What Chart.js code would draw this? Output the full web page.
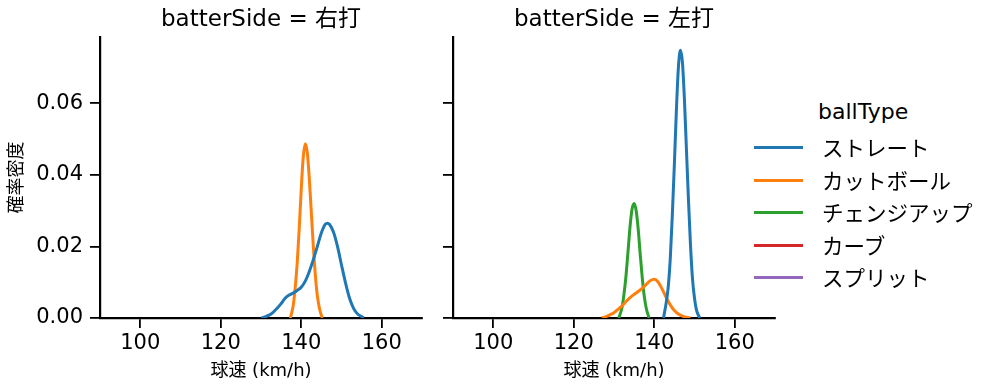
<!DOCTYPE html>
<html>
<head>
<meta charset="utf-8">
<script src="https://cdn.jsdelivr.net/npm/chart.js@4/dist/chart.umd.min.js"></script>
<style>
  body { margin: 0; background: #fff; }
  #wrap { position: relative; width: 999px; height: 391px; font-family: "DejaVu Sans", "Noto Sans CJK JP", sans-serif; }
  .panel { position: absolute; top: 0; }
  #legend { position: absolute; left: 754px; top: 96px; color: #000; }
  #legend .ttl { font-size: 22px; position: absolute; left: 64px; top: 0; white-space: nowrap; line-height: 32px; }
  #legend .item { position: absolute; left: 0; height: 30px; white-space: nowrap; }
  #legend .sw { position: absolute; left: 0; width: 49px; height: 3px; top: 14px; }
  #legend .lbl { position: absolute; left: 68px; top: 0; font-size: 21.5px; line-height: 30px; font-family: "Noto Sans CJK JP", sans-serif; }
</style>
</head>
<body>
<div id="wrap">
  <div class="panel" style="left:0px;width:430px;height:391px"><canvas id="leftChart" width="430" height="391"></canvas></div>
  <div class="panel" style="left:430px;width:352px;height:391px"><canvas id="rightChart" width="352" height="391"></canvas></div>
  <div id="legend"></div>
</div>
<script>
// tick values
const xTicks = [100, 120, 140, 160];
const yTicks = [0, 0.02, 0.04, 0.06];

const ballTypes = ["ストレート", "カットボール", "チェンジアップ", "カーブ", "スプリット"];
const colors = ["#1f77b4", "#ff7f0e", "#2ca02c", "#d62728", "#9467bd"];

// 右打 panel
const rightStraightX = [130, 131, 132, 133, 134, 135, 136, 137, 138, 139, 140, 141, 142, 143, 144, 145, 146, 146.5, 147, 148, 149, 150, 151, 152, 153, 154, 155, 155.5];
const rightStraightY = [0, 0.0003, 0.0008, 0.0016, 0.0027, 0.004, 0.0055, 0.0064, 0.007, 0.0077, 0.0086, 0.0103, 0.013, 0.0163, 0.02, 0.0238, 0.0262, 0.0265, 0.0262, 0.024, 0.02, 0.0148, 0.0098, 0.0055, 0.0027, 0.0011, 0.0004, 0];
const rightCutterX = [137.3, 138, 138.5, 139, 139.5, 140, 140.5, 141, 141.5, 142, 142.5, 143, 143.5, 144, 144.5, 145.2];
const rightCutterY = [0, 0.0035, 0.0085, 0.0155, 0.025, 0.036, 0.045, 0.0487, 0.0462, 0.039, 0.0295, 0.02, 0.012, 0.0062, 0.0028, 0];

// 左打 panel
const leftStraightX = [142.3, 143, 143.5, 144, 144.5, 145, 145.5, 146, 146.5, 147, 147.5, 148, 148.5, 149, 149.5, 150, 150.5, 151.3];
const leftStraightY = [0, 0.0045, 0.009, 0.017, 0.029, 0.043, 0.058, 0.07, 0.0748, 0.0715, 0.061, 0.047, 0.033, 0.0205, 0.011, 0.0055, 0.0022, 0];
const leftCutterX = [127, 128, 129, 130, 131, 132, 133, 134, 135, 136, 137, 138, 139, 140, 141, 142, 143, 144, 145, 146, 147, 148, 149];
const leftCutterY = [0, 0.0004, 0.0009, 0.0015, 0.0024, 0.0034, 0.0046, 0.0057, 0.0066, 0.0074, 0.0083, 0.0094, 0.0104, 0.0108, 0.01, 0.008, 0.0057, 0.0036, 0.0021, 0.0011, 0.0005, 0.0002, 0];
const leftChangeX = [131.2, 132, 132.5, 133, 133.5, 134, 134.5, 135, 135.5, 136, 136.5, 137, 137.5, 138, 138.7];
const leftChangeY = [0, 0.003, 0.0068, 0.012, 0.0188, 0.0257, 0.0305, 0.032, 0.03, 0.025, 0.018, 0.0115, 0.0062, 0.0028, 0];

Chart.defaults.font.family = '"DejaVu Sans", "Noto Sans CJK JP", sans-serif';
Chart.defaults.color = "#000";

function toPoints(xs, ys) {
  return xs.map((x, i) => ({ x: x, y: ys[i] }));
}

function makeSet(idx, xs, ys) {
  return {
    label: ballTypes[idx],
    data: toPoints(xs, ys),
    borderColor: colors[idx],
    borderWidth: 3,
    pointRadius: 0,
    fill: false,
    cubicInterpolationMode: "monotone",
  };
}

function makeChart(id, title, datasets, showY) {
  const ctx = document.getElementById(id).getContext("2d");
  return new Chart(ctx, {
    type: "line",
    data: { datasets: datasets },
    options: {
      responsive: false,
      animation: false,
      layout: { padding: { right: showY ? 8 : 7, top: 0, bottom: 0, left: 0 } },
      plugins: {
        legend: { display: false },
        tooltip: { enabled: false },
        title: {
          display: true,
          text: title,
          fullSize: false,
          font: { size: 23, weight: "normal" },
          padding: { top: 6, bottom: 3.4 },
          color: "#000",
        },
      },
      scales: {
        x: {
          type: "linear",
          min: 90,
          max: 170,
          afterBuildTicks: (s) => { s.ticks = xTicks.map((v) => ({ value: v })); },
          afterFit: (s) => { s.height = 73; },
          ticks: { font: { size: 21 }, padding: 3, maxRotation: 0, color: "#000" },
          grid: { drawOnChartArea: false, drawTicks: true, tickLength: 10, color: "#000", lineWidth: 1.8 },
          border: { display: true, color: "#000", width: 2.2 },
          title: { display: true, text: "球速 (km/h)", font: { size: 18 }, padding: { top: 9, bottom: 9 }, color: "#000" },
        },
        y: {
          type: "linear",
          min: 0,
          max: 0.0785,
          afterBuildTicks: (s) => { s.ticks = yTicks.map((v) => ({ value: v })); },
          afterFit: (s) => { s.width = showY ? 100 : 23; },
          ticks: {
            display: showY,
            font: { size: 21 },
            padding: 7,
            color: "#000",
            callback: (v) => Number(v).toFixed(2),
          },
          grid: { drawOnChartArea: false, drawTicks: true, tickLength: 10, color: "#000", lineWidth: 1.8 },
          border: { display: true, color: "#000", width: 2.2 },
          title: { display: showY, text: "確率密度", font: { size: 18 }, padding: { top: 7, bottom: 7 }, color: "#000" },
        },
      },
    },
  });
}

makeChart("leftChart", "batterSide = 右打", [
  makeSet(0, rightStraightX, rightStraightY),
  makeSet(1, rightCutterX, rightCutterY),
], true);

makeChart("rightChart", "batterSide = 左打", [
  makeSet(0, leftStraightX, leftStraightY),
  makeSet(1, leftCutterX, leftCutterY),
  makeSet(2, leftChangeX, leftChangeY),
], false);

// legend
const legend = document.getElementById("legend");
const ttl = document.createElement("div");
ttl.className = "ttl";
ttl.textContent = "ballType";
legend.appendChild(ttl);
ballTypes.forEach((name, i) => {
  const item = document.createElement("div");
  item.className = "item";
  item.style.top = (36 + i * 32.5) + "px";
  const sw = document.createElement("div");
  sw.className = "sw";
  sw.style.background = colors[i];
  const lbl = document.createElement("div");
  lbl.className = "lbl";
  lbl.textContent = name;
  item.appendChild(sw);
  item.appendChild(lbl);
  legend.appendChild(item);
});
</script>
</body>
</html>
